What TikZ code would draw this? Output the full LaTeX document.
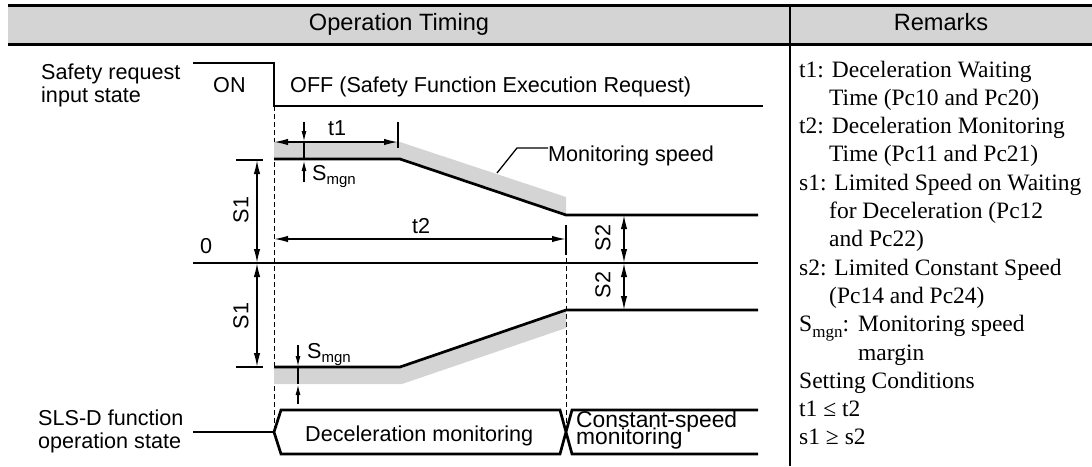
\documentclass[tikz,border=0pt]{standalone}
\usepackage{fontspec}
\setmainfont{Liberation Serif}
\setsansfont{Liberation Sans}
\usetikzlibrary{arrows.meta}
\definecolor{hdrgray}{RGB}{212,212,212}
\definecolor{bandgray}{RGB}{212,212,212}
\newcommand\subA[1]{\raisebox{-4pt}{\fontsize{15}{15}\selectfont #1}}
\newcommand\subB[1]{\raisebox{-5.5pt}{\fontsize{17}{17}\selectfont #1}}
\begin{document}
\begin{tikzpicture}[x=1pt,y=-1pt,
  lbl/.style={font=\sffamily\fontsize{21.6}{24}\selectfont,inner sep=0pt,anchor=base west},
  hdr/.style={font=\sffamily\fontsize{23.6}{26}\selectfont,inner sep=0pt,anchor=base},
  rotlbl/.style={font=\sffamily\fontsize{21.6}{24}\selectfont,inner sep=0pt,rotate=90},
  rmk/.style={font=\rmfamily\fontsize{23.5}{28}\selectfont,inner sep=0pt,anchor=base west},
  sig/.style={line width=2.7pt,line join=miter},
  thinln/.style={line width=1.3pt},
  dimln/.style={line width=1.5pt},
  dimboth/.style={dimln,{Latex[length=14pt,width=6.5pt]}-{Latex[length=14pt,width=6.5pt]}},
  dimone/.style={dimln,-{Latex[length=11pt,width=5pt]}},
  guide/.style={line width=1pt,dash pattern=on 5pt off 3pt},
]
\useasboundingbox (0,0) rectangle (1092,466);

% header
\fill[hdrgray] (8,5) rectangle (1092,44);
\draw[line width=3pt] (8,5) -- (1092,5);
\draw[line width=3pt] (8,44) -- (1092,44);
\draw[line width=2.5pt] (790,5) -- (790,466);
\node[hdr] (hOT) at (399,30) {Operation Timing};
\node[hdr] (hRM) at (941,30) {Remarks};

% left labels
\node[lbl] (safe1) at (41,79) {Safety request};
\node[lbl] (safe2) at (41,102) {input state};
\node[lbl] (sls1) at (38,425) {SLS-D function};
\node[lbl] (sls2) at (38,448) {operation state};
\node[lbl] (zero) at (200,253) {0};

% safety request signal
\coordinate (sA) at (193,63);
\coordinate (sB) at (274,63);
\coordinate (sC) at (274,106);
\coordinate (sD) at (763,106);
\draw[sig] (sA) -- (sB) -- (sC) -- (sD);
\node[lbl] (on) at (213,92) {ON};
\node[lbl] (off) at (290,92) {OFF (Safety Function Execution Request)};

% dashed guides
\coordinate (gA1) at (274,106);
\coordinate (gA2) at (274,432);
\coordinate (gB1) at (566,258);
\coordinate (gB2) at (566,432);
\draw[guide] (gA1) -- (gA2);
\draw[guide] (gB1) -- (gB2);

% grey monitoring bands
\fill[bandgray] (274,142) -- (400,142) -- (566,197) -- (566,215) -- (400,159) -- (274,159) -- cycle;
\fill[bandgray] (274,367) -- (400,367) -- (566,310) -- (566,328) -- (402,384) -- (274,384) -- cycle;

% zero axis
\coordinate (zA) at (193,263);
\coordinate (zB) at (758,263);
\draw[thinln] (zA) -- (zB);

% speed lines
\coordinate (uA) at (274,159);
\coordinate (uB) at (400,159);
\coordinate (uC) at (566,215);
\coordinate (uD) at (758,215);
\draw[sig] (uA) -- (uB) -- (uC) -- (uD);
\coordinate (lA) at (274,367);
\coordinate (lB) at (400,367);
\coordinate (lC) at (566,310);
\coordinate (lD) at (758,310);
\draw[sig] (lA) -- (lB) -- (lC) -- (lD);

% t1
\coordinate (t1a) at (274,142);
\coordinate (t1b) at (398,142);
\draw[dimboth] (t1a) -- (t1b);
\draw[dimln] (398,122) -- (398,148);
\node[lbl] (t1l) at (328,135) {t1};

% t2
\coordinate (t2a) at (274,239);
\coordinate (t2b) at (566,239);
\draw[dimboth] (t2a) -- (t2b);
\draw[dimln] (566,225) -- (566,255);
\node[lbl] (t2l) at (412,233) {t2};

% S1
\draw[dimln] (236,160) -- (263,160);
\draw[dimboth] (257,160) -- (257,263);
\draw[dimboth] (257,263) -- (257,367);
\draw[dimln] (236,367) -- (263,367);
\node[rotlbl] (s1u) at (241,210) {S1};
\node[rotlbl] (s1d) at (241,316) {S1};

% S2
\draw[dimboth] (624,215) -- (624,263);
\draw[dimboth] (624,263) -- (624,310);
\node[rotlbl] (s2u) at (603,238) {S2};
\node[rotlbl] (s2d) at (603,285) {S2};

% Smgn upper
\draw[dimone] (304,122) -- (304,142);
\draw[dimln] (304,142) -- (304,159);
\draw[dimone] (304,182) -- (304,160);
\node[lbl] (smu) at (312,180) {S\subA{mgn}};

% Smgn lower
\draw[dimone] (298,345) -- (298,367);
\draw[dimln] (298,367) -- (298,384);
\draw[dimone] (298,404) -- (298,384);
\node[lbl] (smd) at (307,358) {S\subA{mgn}};

% monitoring speed leader
\node[lbl] (ms) at (548,161) {Monitoring speed};
\coordinate (mA) at (497,173);
\coordinate (mB) at (517,148);
\draw[thinln] (mA) -- (mB) -- (ms.west |- mB);

% function state
\coordinate (fA) at (193,432);
\coordinate (fB) at (274,432);
\draw[sig] (fA) -- (fB);
\draw[sig] (758,410) -- (572,410) -- (560,454) -- (281,454) -- (fB) -- (281,410) -- (560,410) -- (572,454) -- (758,454);
\node[lbl] (dec) at (305,441) {Deceleration monitoring};
\node[lbl,font=\sffamily\fontsize{22.8}{24}\selectfont] (cs1) at (576,427) {Constant-speed};
\node[lbl,font=\sffamily\fontsize{22.8}{24}\selectfont] (cs2) at (576,444) {monitoring};

% remarks
\node[rmk] (r1) at (799,77) {t1: Deceleration Waiting};
\node[rmk] (r2) at (829,105.3) {Time (Pc10 and Pc20)};
\node[rmk] (r3) at (799,133.6) {t2: Deceleration Monitoring};
\node[rmk] (r4) at (829,161.9) {Time (Pc11 and Pc21)};
\node[rmk] (r5) at (799,190.2) {s1: Limited Speed on Waiting};
\node[rmk] (r6) at (829,218.5) {for Deceleration (Pc12};
\node[rmk] (r7) at (829,246.8) {and Pc22)};
\node[rmk] (r8) at (799,275.1) {s2: Limited Constant Speed};
\node[rmk] (r9) at (829,303.4) {(Pc14 and Pc24)};
\node[rmk] (r10a) at (799,331.7) {S\subB{mgn}:};
\node[rmk] (r10b) at (858,331.7) {Monitoring speed};
\node[rmk] (r11) at (858,360) {margin};
\node[rmk] (r12) at (799,388.3) {Setting Conditions};
\node[rmk] (r13) at (799,416.6) {t1 ≤ t2};
\node[rmk] (r14) at (799,444.9) {s1 ≥ s2};
\end{tikzpicture}
\end{document}
